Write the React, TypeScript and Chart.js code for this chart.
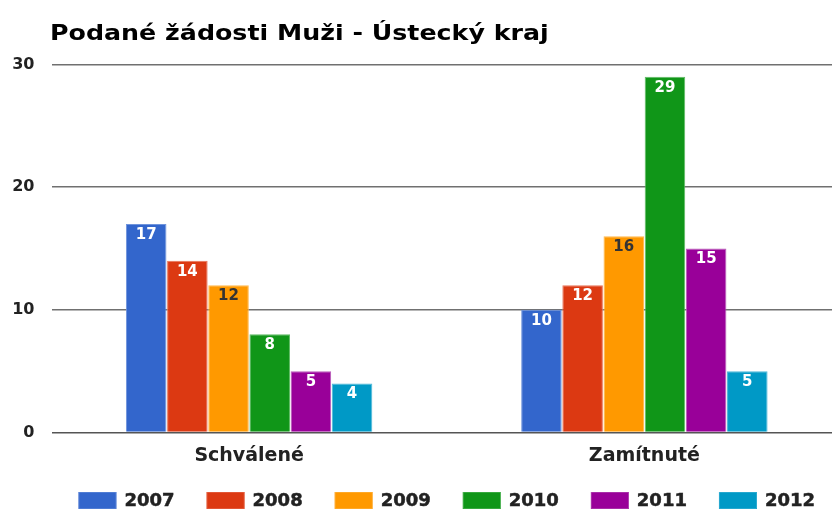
import React, { useEffect, useRef } from "react";
import { Chart, registerables } from "chart.js";

Chart.register(...registerables);

const TITLE = "Podané žádosti Muži - Ústecký kraj";
const categories = ["Schválené", "Zamítnuté"];
const seriesNames = ["2007", "2008", "2009", "2010", "2011", "2012"];
const seriesColors = ["#3366CC", "#DC3912", "#FF9900", "#109618", "#990099", "#0099C6"];
const seriesBorders = ["#6f94dc", "#e87458", "#ffb84d", "#5fbb64", "#b85cb8", "#4db8d8"];
const labelColors = ["#ffffff", "#ffffff", "#333333", "#ffffff", "#ffffff", "#ffffff"];
const v2007 = [17, 10];
const v2008 = [14, 12];
const v2009 = [12, 16];
const v2010 = [8, 29];
const v2011 = [5, 15];
const v2012 = [4, 5];
const seriesValues = [v2007, v2008, v2009, v2010, v2011, v2012];
const yTicks = [0, 10, 20, 30];

const FONT = "'DejaVu Sans', sans-serif";

const decorPlugin = {
  id: "decor",
  afterDatasetsDraw(chart: any) {
    const ctx = chart.ctx;
    ctx.save();
    ctx.font = `bold 15px ${FONT}`;
    ctx.textAlign = "center";
    ctx.textBaseline = "middle";
    chart.data.datasets.forEach((ds: any, i: number) => {
      const meta = chart.getDatasetMeta(i);
      meta.data.forEach((bar: any, j: number) => {
        ctx.fillStyle = labelColors[i];
        ctx.fillText(String(ds.data[j]), bar.x, bar.y + 11);
      });
    });
    ctx.restore();
  },
  afterDraw(chart: any) {
    const ctx = chart.ctx;
    const area = chart.chartArea;
    ctx.save();
    // title
    ctx.font = `bold 22px ${FONT}`;
    ctx.fillStyle = "#000000";
    ctx.textAlign = "left";
    ctx.textBaseline = "alphabetic";
    ctx.save();
    ctx.translate(50, 40);
    ctx.scale(1.15, 1);
    ctx.fillText(TITLE, 0, 0);
    ctx.restore();
    // legend
    ctx.font = `bold 18px ${FONT}`;
    const boxW = 38;
    const boxH = 17;
    const gap = 8;
    const itemGap = 32;
    const widths = seriesNames.map((n) => boxW + gap + ctx.measureText(n).width);
    const total = widths.reduce((a, b) => a + b, 0) + itemGap * (seriesNames.length - 1);
    let x = (area.left + area.right) / 2 - total / 2;
    const y = 492;
    ctx.lineWidth = 0.5;
    seriesNames.forEach((n, i) => {
      ctx.fillStyle = seriesColors[i];
      ctx.fillRect(x, y, boxW, boxH);
      ctx.strokeStyle = seriesBorders[i];
      ctx.strokeRect(x + 0.5, y + 0.5, boxW - 1, boxH - 1);
      ctx.fillStyle = "#222222";
      ctx.strokeStyle = "#222222";
      ctx.textBaseline = "middle";
      ctx.fillText(n, x + boxW + gap, y + boxH / 2 + 1);
      ctx.strokeText(n, x + boxW + gap, y + boxH / 2 + 1);
      x += widths[i] + itemGap;
    });
    ctx.restore();
  },
};

export default function App() {
  const ref = useRef<HTMLCanvasElement | null>(null);
  useEffect(() => {
    document.body.style.margin = "0";
    document.body.style.overflow = "hidden";
    const canvas = ref.current!;
    const chart = new Chart(canvas, {
      type: "bar",
      data: {
        labels: categories,
        datasets: seriesNames.map((n, i) => ({
          label: n,
          data: seriesValues[i],
          backgroundColor: seriesColors[i],
          borderColor: seriesBorders[i],
          borderWidth: 1,
          barPercentage: 0.985,
          categoryPercentage: 0.625,
        })),
      },
      options: {
        animation: false,
        responsive: false,
        layout: { padding: { top: 64.5, bottom: 46.5, left: 0, right: 0 } },
        plugins: {
          legend: { display: false },
          title: { display: false },
          tooltip: { enabled: false },
        },
        scales: {
          x: {
            grid: { display: false, drawTicks: false },
            border: { display: false },
            ticks: {
              font: { family: "DejaVu Sans", weight: "bold", size: 19 },
              color: "#222222",
              padding: 12,
            },
            afterFit: (s: any) => {
              s.height = 30;
            },
          },
          y: {
            min: 0,
            max: 30,
            afterBuildTicks: (s: any) => {
              s.ticks = yTicks.map((v) => ({ value: v }));
            },
            grid: {
              color: (c: any) => (c.tick && c.tick.value === 0 ? "#555555" : "#707070"),
              lineWidth: 1.6,
              drawTicks: false,
            },
            border: { display: false },
            ticks: {
              font: { family: "DejaVu Sans", weight: "bold", size: 16 },
              color: "#222222",
              padding: 17,
            },
            afterFit: (s: any) => {
              s.width = 51.5;
            },
          },
        },
      },
      plugins: [decorPlugin],
    });
    return () => chart.destroy();
  }, []);
  return (
    <div style={{ width: 832, height: 509, overflow: "hidden", position: "relative", background: "#fff" }}>
      <canvas ref={ref} width={842} height={509} style={{ display: "block", width: 842, height: 509 }} />
    </div>
  );
}
